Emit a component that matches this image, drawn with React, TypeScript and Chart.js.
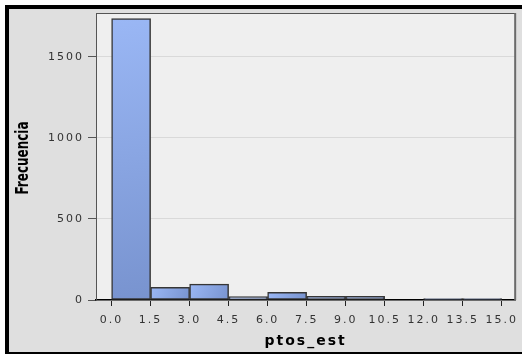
import React, { useEffect, useRef } from "react";
import { Chart, registerables } from "chart.js";

Chart.register(...registerables);

// ---- data ----
const binStarts = [0, 1.5, 3, 4.5, 6, 7.5, 9, 10.5, 12, 13.5];
const binWidth = 1.5;
const frequencies = [1735, 78, 98, 21, 48, 22, 22, 0, 9, 9];
const xTickValues = [0, 1.5, 3, 4.5, 6, 7.5, 9, 10.5, 12, 13.5, 15];
const yTickValues = [0, 500, 1000, 1500];
const xTitle = "ptos_est";
const yTitle = "Frecuencia";

const TICK_FONT = { family: "'DejaVu Sans', sans-serif", size: 11 };

const decorPlugin = {
  id: "decor",
  beforeDraw(chart: any) {
    const { ctx, chartArea: a } = chart;
    ctx.save();
    ctx.fillStyle = "#efefef";
    ctx.fillRect(a.left, a.top, a.right - a.left, a.bottom - a.top);
    ctx.restore();
    (ctx as any).letterSpacing = "2px";
  },
  afterDatasetsDraw(chart: any) {
    const { ctx, chartArea: a } = chart;
    ctx.save();
    ctx.strokeStyle = "#555";
    ctx.lineWidth = 1;
    ctx.beginPath();
    ctx.moveTo(a.left, a.top + 0.5);
    ctx.lineTo(a.right, a.top + 0.5);
    ctx.stroke();
    ctx.strokeStyle = "#6a6a6a";
    ctx.lineWidth = 2;
    ctx.beginPath();
    ctx.moveTo(a.right, a.top);
    ctx.lineTo(a.right, a.bottom);
    ctx.stroke();
    ctx.restore();
  },
  afterDraw(chart: any) {
    const { ctx, chartArea: a } = chart;
    (ctx as any).letterSpacing = "0px";
    const ys = chart.scales.y;
    ctx.save();
    ctx.translate(ys.left + 23.5, (a.top + a.bottom) / 2 + 1.5);
    ctx.rotate(-Math.PI / 2);
    ctx.font = "bold 17px 'DejaVu Sans Condensed', sans-serif";
    const w = ctx.measureText(yTitle).width;
    const target = 73;
    if (w > target) ctx.scale(target / w, 1);
    ctx.textAlign = "center";
    ctx.textBaseline = "middle";
    ctx.fillStyle = "#000";
    ctx.fillText(yTitle, 0, 0);
    ctx.restore();
  },
};

export default function App() {
  const canvasRef = useRef<HTMLCanvasElement | null>(null);

  useEffect(() => {
    document.body.style.margin = "0";
    const canvas = canvasRef.current;
    if (!canvas) return;

    const points = binStarts.map((s, i) => ({ x: s + binWidth / 2, y: frequencies[i] }));

    const chart = new Chart(canvas, {
      type: "bar",
      data: {
        datasets: [
          {
            data: points as any,
            barPercentage: 1,
            categoryPercentage: 1,
            borderColor: "#363636",
            borderWidth: 1.5,
            borderSkipped: false,
            backgroundColor: (c: any) => {
              const ch = c.chart;
              const xs = ch.scales?.x;
              const ys = ch.scales?.y;
              const i = c.dataIndex;
              if (!xs || !ys || i == null || !ch.chartArea) return "#8aa6e4";
              const l = xs.getPixelForValue(binStarts[i]);
              const r = xs.getPixelForValue(binStarts[i] + binWidth);
              const t = ys.getPixelForValue(frequencies[i]);
              const b = ys.getPixelForValue(0);
              if (![l, r, t, b].every(Number.isFinite)) return "#8aa6e4";
              const g = ch.ctx.createLinearGradient(l, t, r, b);
              g.addColorStop(0, "#9ab7f5");
              g.addColorStop(1, "#7893cf");
              return g;
            },
          },
        ],
      },
      options: {
        responsive: false,
        animation: false,
        devicePixelRatio: 1,
        layout: { padding: { left: 0, top: 13, right: 3, bottom: 0 } },
        plugins: { legend: { display: false }, tooltip: { enabled: false } },
        scales: {
          x: {
            type: "linear",
            min: -0.6,
            max: 15.52,
            offset: false,
            afterBuildTicks: (s: any) => {
              s.ticks = xTickValues.map((v) => ({ value: v }));
            },
            afterFit: (s: any) => {
              s.height = 54;
            },
            ticks: {
              callback: (v: any) => Number(v).toFixed(1),
              font: TICK_FONT,
              color: "#333",
              padding: 8,
              maxRotation: 0,
              autoSkip: false,
            },
            grid: { drawOnChartArea: false, tickColor: "#222", tickLength: 6, offset: false },
            border: { color: "#000", width: 1.5 },
            title: {
              display: true,
              text: xTitle,
              color: "#000",
              font: { family: "'DejaVu Sans', sans-serif", size: 14, weight: "bold" },
              padding: { top: 0, bottom: 4 },
            },
          } as any,
          y: {
            min: 0,
            max: 1770,
            afterBuildTicks: (s: any) => {
              s.ticks = yTickValues.map((v) => ({ value: v }));
            },
            afterFit: (s: any) => {
              s.width = 96;
            },
            ticks: { font: TICK_FONT, color: "#333", padding: 4, callback: (v: any) => String(v) },
            grid: { color: "#d9d9d9", tickColor: "#555", tickLength: 8, lineWidth: 1 },
            border: { color: "#555", width: 1 },
            title: { display: false },
          } as any,
        },
      },
      plugins: [decorPlugin as any],
    });

    return () => chart.destroy();
  }, []);

  return (
    <div
      style={{
        position: "fixed",
        left: 0,
        top: 0,
        width: 522,
        height: 354,
        overflow: "hidden",
        background: "#fff",
      }}
    >
      <div
        style={{
          position: "absolute",
          left: 5,
          top: 5,
          width: 540,
          height: 349,
          boxSizing: "border-box",
          borderLeft: "4px solid #000",
          borderTop: "4px solid #000",
          borderBottom: "2px solid #000",
          background: "#dfdfdf",
        }}
      />
      <canvas
        ref={canvasRef}
        width={522}
        height={354}
        style={{ position: "absolute", left: 0, top: 0, width: 522, height: 354 }}
      />
    </div>
  );
}
